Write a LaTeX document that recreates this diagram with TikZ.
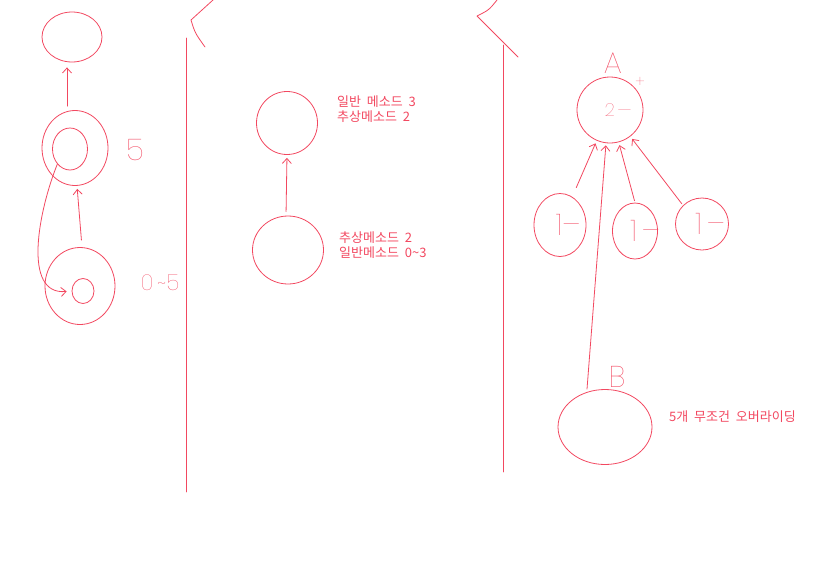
\documentclass[tikz,border=0pt]{standalone}
\usepackage{fontspec}
\usepackage{xcolor}
\usetikzlibrary{shapes.geometric,arrows.meta}
\newfontfamily\kofont{Noto Sans CJK KR}[WordSpace=2]
\newfontfamily\handfont{Poppins Thin}
\definecolor{pen}{RGB}{242,72,96}
\tikzset{
    sketch-circle/.style = {draw=pen, ellipse, line width=0.8pt, inner sep=0pt},
    sketch-line/.style = {draw=pen, line width=0.8pt, line cap=round, line join=round},
    sketch-arrow/.style = {sketch-line, -{Straight Barb[length=5pt,width=9pt]}},
    hand-label/.style = {text=pen, inner sep=0pt, font=\handfont\fontsize{30}{30}\selectfont},
    note-text/.style = {text=pen, inner sep=0pt, anchor=west, align=left, font=\kofont\fontsize{13}{14.5}\selectfont},
}

\begin{document}
\begin{tikzpicture}[x=1pt,y=-1pt]
\useasboundingbox (0,0) rectangle (813,565);

% left column
\node [sketch-circle, minimum width=60pt, minimum height=50pt] (top-left) at (72,37) {};
\node [sketch-circle, minimum width=66pt, minimum height=75pt] (mid-left) at (75,148) {};
\node [sketch-circle, minimum width=35pt, minimum height=42pt] (inner-mid) at (70,149) {};
\node [sketch-circle, minimum width=70pt, minimum height=77pt] (bot-left) at (80,286) {};
\node [sketch-circle, minimum width=22pt, minimum height=25pt] (inner-bot) at (83,291) {};
\node [hand-label] (five) at (135,150) {5};
\node [hand-label, font=\handfont\fontsize{22}{22}\selectfont] (range) at (160,283) {0\,\textasciitilde5};
\draw [sketch-arrow, shorten <=4pt, shorten >=5pt] ([xshift=-8pt]mid-left.north) -- ([xshift=-5pt]top-left.south);
\draw [sketch-arrow, shorten <=7pt, shorten >=3pt] ([xshift=2pt]bot-left.north) -- ([xshift=2pt]mid-left.south);
\draw [sketch-arrow, shorten >=5pt] (inner-mid.south west) to[out=-112, in=185] (inner-bot.west);

% dividers
\coordinate (div-a-top) at (186,38);
\coordinate (div-a-bot) at (186,492);
\coordinate (div-b-top) at (503,45);
\coordinate (div-b-bot) at (503,472);
\draw [sketch-line] (div-a-top) -- (div-a-bot);
\draw [sketch-line] (div-b-top) -- (div-b-bot);
\draw [sketch-line] (213,0) -- (191,20) .. controls (195,33) .. (205,47);
\draw [sketch-line] (497,0) .. controls (489,10) .. (477,16) -- (518,57);

% middle column
\node [sketch-circle, minimum width=61pt, minimum height=63pt] (abstract-top) at (287,123) {};
\node [sketch-circle, minimum width=71pt, minimum height=68pt] (abstract-bot) at (288,250) {};
\draw [sketch-arrow, shorten <=4pt, shorten >=3pt] ([xshift=-2pt]abstract-bot.north) -- (abstract-top.south);
\node [note-text] (note-top) at (337,109) {일반 메소드 3\\추상메소드 2};
\node [note-text] (note-bot) at (339,245) {추상메소드 2\\일반메소드 0\textasciitilde3};

% right column
\node [sketch-circle, minimum size=66pt] (class-a) at (610,110) {};
\node [hand-label] (label-a) at (613,63) {A};
\node [hand-label, font=\handfont\fontsize{16}{16}\selectfont] (plus-a) at (640,82) {+};
\node [hand-label, font=\handfont\fontsize{18}{18}\selectfont] (count-a) at (618,110) {2\,—};
\node [sketch-circle, minimum width=52pt, minimum height=63pt] (sub-one) at (560,225) {};
\node [sketch-circle, minimum width=45pt, minimum height=56pt] (sub-two) at (635,231) {};
\node [sketch-circle, minimum width=53pt, minimum height=52pt] (sub-three) at (702,224) {};
\node [hand-label] (count-one) at (568,225) {1–};
\node [hand-label] (count-two) at (645,231) {1\,–};
\node [hand-label] (count-three) at (710,224) {1\,–};
\draw [sketch-arrow, shorten <=10pt, shorten >=3pt] (sub-one) -- (class-a);
\draw [sketch-arrow, shorten <=2pt, shorten >=3pt] (sub-two.north) -- (class-a);
\draw [sketch-arrow, shorten <=2pt, shorten >=3pt] (sub-three.north west) -- (class-a);
\node [sketch-circle, minimum width=94pt, minimum height=75pt] (class-b) at (605,427) {};
\node [hand-label] (label-b) at (617,377) {B};
\draw [sketch-arrow, shorten >=2pt] ([xshift=-18pt]class-b.north) -- ([xshift=-4pt]class-a.south);
\node [note-text] (note-b) at (669,417) {5개 무조건 오버라이딩};
\end{tikzpicture}
\end{document}
